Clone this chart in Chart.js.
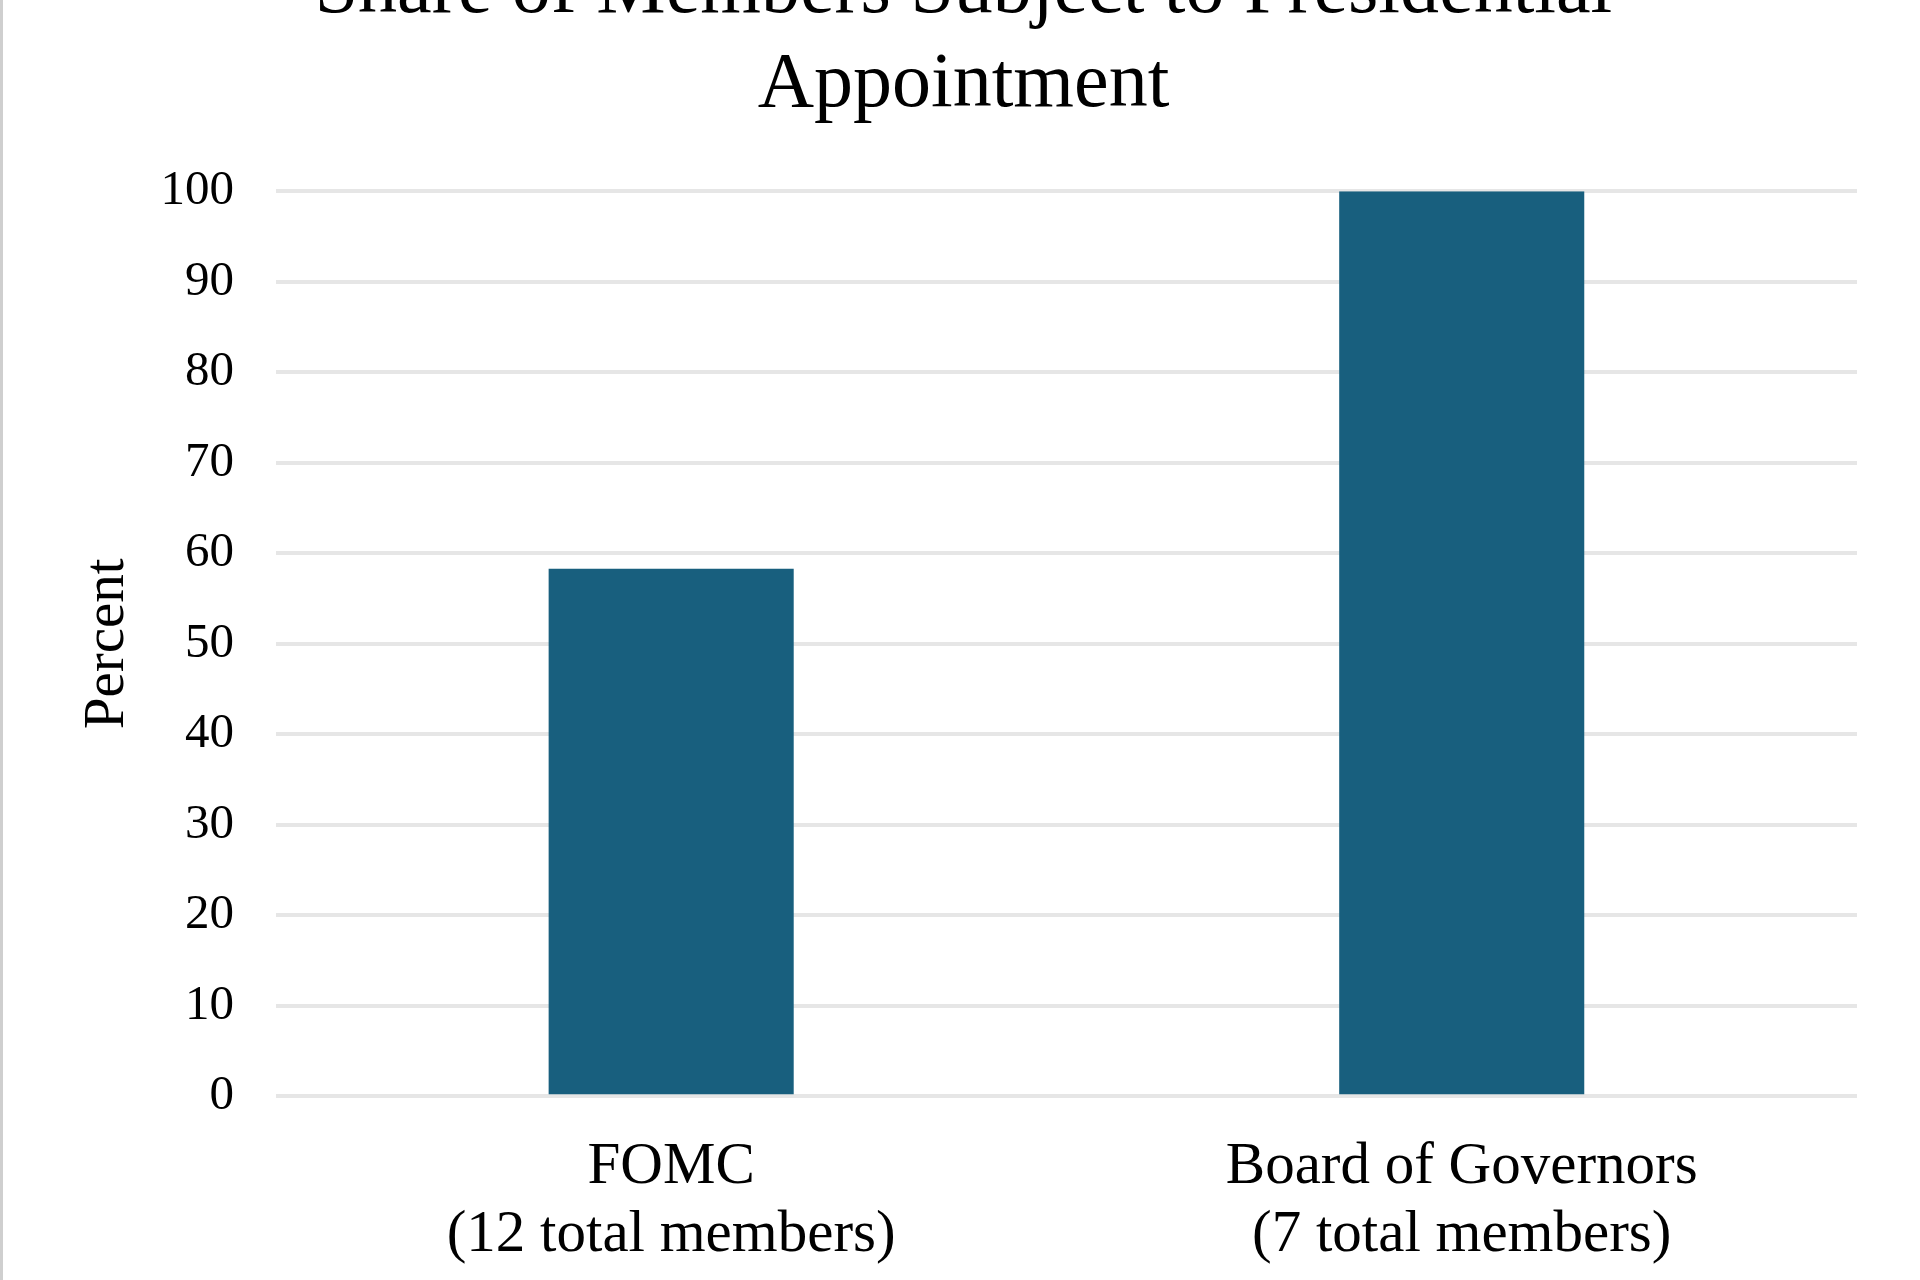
<!DOCTYPE html>
<html>
<head>
<meta charset="utf-8">
<script src="https://cdn.jsdelivr.net/npm/chart.js@4.4.0/dist/chart.umd.min.js"></script>
<style>
  html, body { margin: 0; padding: 0; background: #fff; overflow: hidden; }
  #frame { position: absolute; left: 0; top: 0; width: 1920px; height: 1280px; overflow: hidden;
           border-left: 3px solid #cfcfcf; box-sizing: border-box; }
  #wrap { position: absolute; left: 0; top: -65px; width: 1917px; height: 1345px; }
</style>
</head>
<body>
<div id="frame">
  <div id="wrap"><canvas id="shareChart"></canvas></div>
</div>
<script>
// Chart data
const categories = [
    ['FOMC', '(12 total members)'],
    ['Board of Governors', '(7 total members)']
];
const shareValues = [58.3, 100];
const yTicks = [0, 10, 20, 30, 40, 50, 60, 70, 80, 90, 100];
const chartTitle = ['Share of Members Subject to Presidential', 'Appointment'];
const yAxisTitle = 'Percent';

const serif = "'Liberation Serif', 'DejaVu Serif', serif";

function createChart() {
    const ctx = document.getElementById('shareChart').getContext('2d');
    new Chart(ctx, {
        type: 'bar',
        data: {
            labels: categories,
            datasets: [{
                label: 'Share',
                data: shareValues,
                backgroundColor: '#185f7e',
                borderWidth: 0,
                barPercentage: 0.62,
                categoryPercentage: 0.5
            }]
        },
        options: {
            responsive: true,
            maintainAspectRatio: false,
            animation: false,
            devicePixelRatio: 1,
            layout: {
                padding: { left: 67, right: 63, top: 0, bottom: 11 }
            },
            plugins: {
                legend: { display: false },
                tooltip: { enabled: false },
                title: {
                    display: true,
                    text: chartTitle,
                    color: '#000',
                    font: { family: serif, size: 78, weight: 'normal', lineHeight: 1.2 },
                    padding: { top: 10, bottom: 59 }
                }
            },
            scales: {
                y: {
                    min: 0,
                    max: 100,
                    afterBuildTicks: axis => {
                        axis.ticks = yTicks.map(v => ({ value: v }));
                    },
                    // Chart.js reserves the tick padding twice; keep it once
                    afterFit: axis => {
                        axis.width -= axis.options.ticks.padding;
                    },
                    grid: { color: '#e6e6e6', lineWidth: 4, drawTicks: false },
                    border: { display: false },
                    ticks: {
                        color: '#000',
                        padding: 42,
                        font: { family: serif, size: 49 }
                    },
                    title: {
                        display: true,
                        text: yAxisTitle,
                        color: '#000',
                        font: { family: serif, size: 57, weight: 'normal', lineHeight: 1.2 },
                        padding: { top: 4, bottom: 18 }
                    }
                },
                x: {
                    grid: { display: false },
                    border: { display: false },
                    afterFit: axis => {
                        axis.paddingLeft = 0;
                        axis.paddingRight = 0;
                        axis.height -= axis.options.ticks.padding;
                    },
                    ticks: {
                        color: '#000',
                        padding: 29,
                        font: { family: serif, size: 59, lineHeight: 1.15 }
                    }
                }
            }
        }
    });
}

window.addEventListener('DOMContentLoaded', () => {
    createChart();
});
</script>
</body>
</html>
